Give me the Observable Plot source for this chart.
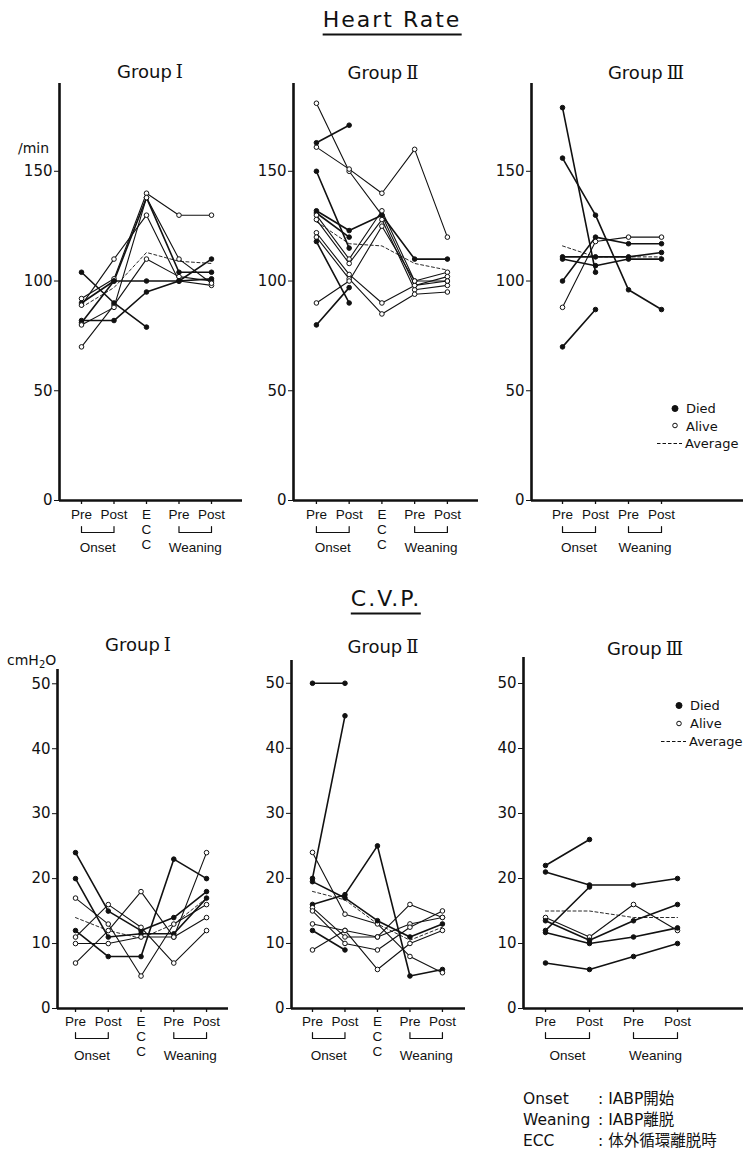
<!DOCTYPE html>
<html>
<head>
<meta charset="utf-8">
<script src="https://cdn.jsdelivr.net/npm/d3@7"></script>
<script src="https://cdn.jsdelivr.net/npm/@observablehq/plot@0.6"></script>
<style>
  html, body { margin: 0; padding: 0; background: #fff; }
  #page { position: relative; width: 743px; height: 1149px; overflow: hidden; color: #111;
          font-family: "DejaVu Sans", "Liberation Sans", sans-serif; }
  .t { position: absolute; white-space: nowrap; line-height: 1; }
  .c { transform: translate(-50%, -50%); }
  .l { transform: translate(0, -50%); }
  .main { font-size: 22px; letter-spacing: 2px; border-bottom: 2px solid #111; padding-bottom: 3px; }
  .grp { font-size: 18px; }
  .rn { font-family: "DejaVu Serif", "Liberation Serif", serif; font-size: 18px; margin-left: 4px; }
  .unit { font-size: 14px; }
  .leg { font-size: 13px; display: flex; align-items: center; }
  .foot { font-size: 15.5px; font-family: "DejaVu Sans", "Noto Sans CJK JP", sans-serif; }
  svg.panel { position: absolute; }
</style>
</head>
<body>
<div id="page"></div>
<script>
// ---------------- data ----------------
const hrStages5 = ["Pre", "Post", "E\nC\nC", "Pre", "Post"];
const hrStages4 = ["Pre", "Post", "Pre", "Post"];
const brackets5 = [[0, 1, "Onset"], [3, 4, "Weaning"]];
const brackets4 = [[0, 1, "Onset"], [2, 3, "Weaning"]];
const hrTicks = [0, 50, 100, 150];
const cvpTicks = [0, 10, 20, 30, 40, 50];

// Heart rate (/min): Pre, Post (onset), ECC, Pre, Post (weaning)
const hrG1Values = [
  [92, 101, 140, 130, 130],
  [90, 100, 138, 104, 104],
  [89, 110, 130, 100, 98],
  [70, 89, 110, 102, 100],
  [82, 82, 95, 100, 110],
  [104, 90, 79, null, null],
  [81, 100, 100, 100, 101],
  [80, 88, 138, 110, 99]
];
const hrG1Died = [false, true, false, false, true, true, true, false];
const hrG1Average = [88, 97, 113, 109, 108];

const hrG2Values = [
  [181, 150, 130, 98, 100],
  [161, 151, 140, 160, 120],
  [163, 171, null, null, null],
  [150, 115, null, null, null],
  [132, 123, 130, 110, 110],
  [131, 120, null, null, null],
  [130, 110, 132, 100, 104],
  [128, 108, 128, 96, 98],
  [122, 103, 90, 98, 102],
  [120, 101, 85, 94, 95],
  [118, 90, null, null, null],
  [90, 100, 125, 100, 100],
  [80, 97, null, null, null]
];
const hrG2Died = [false, false, true, true, true, true, false, false, false, false, true, false, true];
const hrG2Average = [127, 117, 116, 108, 105];

// Group III: Pre, Post (onset), Pre, Post (weaning)
const hrG3Values = [
  [179, 104, null, null],
  [156, 130, 96, 87],
  [111, 111, 111, 113],
  [110, 107, 110, 110],
  [100, 120, 117, 117],
  [88, 118, 120, 120],
  [70, 87, null, null]
];
const hrG3Died = [true, true, true, true, true, false, true];
const hrG3Average = [116, 111, 111, 111];

// C.V.P. (cmH2O)
const cvpG1Values = [
  [24, 15, 12, 14, 18],
  [20, 11, 11.5, 11.5, 17],
  [12, 8, 8, 23, 20],
  [17, 13, 5, 13, 16],
  [11, 16, 12.5, 7, 12],
  [10, 10, 11, 11, 24],
  [7, 12, 18, 11, 14]
];
const cvpG1Died = [true, true, true, false, false, false, false];
const cvpG1Average = [14, 12, 10.8, 13, 17];

const cvpG2Values = [
  [50, 50, null, null, null],
  [20, 45, null, null, null],
  [16, 17.5, 25, 5, 6],
  [24, 14.5, 13, 8, 5.5],
  [19.5, 17, 13.5, 11, 13],
  [15.5, 11, 11, 13, 14],
  [15, 10, 9, 12.5, 15],
  [13, 12, 6, 10, 12],
  [12, 9, null, null, null],
  [9, 12, 11, 16, 14]
];
const cvpG2Died = [true, true, true, false, true, false, false, false, true, false];
const cvpG2Average = [18, 16.7, 13, 10.5, 12.5];

const cvpG3Values = [
  [22, 26, null, null],
  [21, 19, 19, 20],
  [12, 18.7, null, null],
  [14, 11, 16, 12],
  [13.5, 10.5, 13.5, 16],
  [11.7, 10, 11, 12.4],
  [7, 6, 8, 10]
];
const cvpG3Died = [true, true, true, false, true, true, true];
const cvpG3Average = [15, 15, 14, 14];

// ---------------- drawing ----------------
const page = document.getElementById("page");
const INK = "#111";

function text(html, x, y, cls, align = "c") {
  const d = document.createElement("div");
  d.className = "t " + align + " " + cls;
  d.style.left = x + "px";
  d.style.top = y + "px";
  d.innerHTML = html;
  page.appendChild(d);
  return d;
}

function panel(cfg) {
  const {values, died, average, stages, brackets, ticks, ymax,
         left, top, width, height, mL, mR, mT, mB, xmin, xmax, lab} = cfg;
  const innerH = height - mT - mB;
  const u = px => px * ymax / innerH;           // pixels -> y units
  const rows = [];
  values.forEach((vs, s) => vs.forEach((v, i) => {
    if (v != null) rows.push({s, i, v, died: died[s]});
  }));
  const avg = average.map((v, i) => ({i, v}));
  const idx = stages.map((t, i) => ({i, t}));
  const bpts = brackets.flatMap(([a, b], g) => [
    {g, i: a, v: -u(lab.bracket - 6)}, {g, i: a, v: -u(lab.bracket)},
    {g, i: b, v: -u(lab.bracket)}, {g, i: b, v: -u(lab.bracket - 6)}
  ]);
  const labFont = {fontFamily: "Liberation Sans, Arial, sans-serif", fontSize: 13.5, fill: INK};
  const svg = Plot.plot({
    width, height,
    marginLeft: mL, marginRight: mR, marginTop: mT, marginBottom: mB,
    style: {background: "transparent", fontFamily: "DejaVu Sans, sans-serif", fontSize: "15px", color: INK, overflow: "visible"},
    x: {domain: [xmin, xmax], axis: null},
    y: {domain: [0, ymax], ticks, tickSize: 5, tickPadding: 2, label: null},
    marks: [
      Plot.ruleX([xmin], {y1: 0, y2: ymax, stroke: INK, strokeWidth: 2.6}),
      Plot.ruleY([0], {x1: xmin, x2: xmax, stroke: INK, strokeWidth: 2.6}),
      Plot.ruleX(idx, {x: "i", y1: 0, y2: -u(4), stroke: INK, strokeWidth: 1.3}),
      Plot.text(idx, {x: "i", y: 0, dy: lab.stage, text: "t", lineAnchor: "top", lineHeight: 1.12, ...labFont}),
      Plot.line(bpts, {x: "i", y: "v", z: "g", stroke: INK, strokeWidth: 1.2}),
      Plot.text(brackets, {x: d => (d[0] + d[1]) / 2, y: 0, dy: lab.group, text: d => d[2], lineAnchor: "middle", ...labFont}),
      Plot.line(avg, {x: "i", y: "v", stroke: INK, strokeWidth: 0.9, strokeDasharray: "3,2.5"}),
      Plot.line(rows.filter(d => !d.died), {x: "i", y: "v", z: "s", stroke: INK, strokeWidth: 1.1}),
      Plot.line(rows.filter(d => d.died), {x: "i", y: "v", z: "s", stroke: INK, strokeWidth: 1.6}),
      Plot.dot(rows, {x: "i", y: "v", r: 2.3, fill: d => d.died ? INK : "white", stroke: INK, strokeWidth: 1})
    ]
  });
  svg.classList.add("panel");
  svg.style.left = left + "px";
  svg.style.top = top + "px";
  page.appendChild(svg);
}

const hrLab = {stage: 8, bracket: 32, group: 47};
const cvpLab = {stage: 7, bracket: 30, group: 47};

// Heart rate row: axis bottom at y=500
panel({values: hrG1Values, died: hrG1Died, average: hrG1Average, stages: hrStages5, brackets: brackets5,
  ticks: hrTicks, ymax: 190, left: 0, top: 70, width: 250, height: 500, mL: 59, mR: 8, mT: 13, mB: 70,
  xmin: -0.677, xmax: 4.954, lab: hrLab});
panel({values: hrG2Values, died: hrG2Died, average: hrG2Average, stages: hrStages5, brackets: brackets5,
  ticks: hrTicks, ymax: 190, left: 250, top: 70, width: 240, height: 500, mL: 43, mR: 12, mT: 13, mB: 70,
  xmin: -0.70, xmax: 4.95, lab: hrLab});
panel({values: hrG3Values, died: hrG3Died, average: hrG3Average, stages: hrStages4, brackets: brackets4,
  ticks: hrTicks, ymax: 190, left: 490, top: 70, width: 253, height: 500, mL: 41, mR: 0, mT: 13, mB: 70,
  xmin: -0.94, xmax: 5.485, lab: hrLab});

// C.V.P. row: axis bottom at y=1008
panel({values: cvpG1Values, died: cvpG1Died, average: cvpG1Average, stages: hrStages5, brackets: brackets5,
  ticks: cvpTicks, ymax: 52.2, left: 0, top: 650, width: 240, height: 420, mL: 57, mR: 12, mT: 19, mB: 62,
  xmin: -0.55, xmax: 4.67, lab: cvpLab});
panel({values: cvpG2Values, died: cvpG2Died, average: cvpG2Average, stages: hrStages5, brackets: brackets5,
  ticks: cvpTicks, ymax: 53.5, left: 240, top: 650, width: 240, height: 420, mL: 51, mR: 15, mT: 10, mB: 62,
  xmin: -0.646, xmax: 4.71, lab: cvpLab});
panel({values: cvpG3Values, died: cvpG3Died, average: cvpG3Average, stages: hrStages4, brackets: brackets4,
  ticks: cvpTicks, ymax: 54, left: 480, top: 650, width: 263, height: 420, mL: 43, mR: 0, mT: 7, mB: 62,
  xmin: -0.5, xmax: 4.5, lab: cvpLab});

// ---------------- titles, units, legends, footnote ----------------
text("Heart Rate", 392, 22, "main");
text("C.V.P.", 386, 601, "main");

text('Group<span class="rn">Ⅰ</span>', 150, 72, "grp");
text('Group<span class="rn">Ⅱ</span>', 383, 73, "grp");
text('Group<span class="rn">Ⅲ</span>', 646, 73, "grp");
text('Group<span class="rn">Ⅰ</span>', 138, 645, "grp");
text('Group<span class="rn">Ⅱ</span>', 383, 647, "grp");
text('Group<span class="rn">Ⅲ</span>', 645, 649, "grp");

text("/min", 18, 148, "unit", "l");
text('cmH<span style="font-size:10px;position:relative;top:3px">2</span>O', 7, 660, "unit", "l");

function legend(x, y, step) {
  const dot = (fill) => `<svg width="12" height="10" style="margin-right:4px"><circle cx="5" cy="5" r="${fill === "white" ? 2.3 : 3}" fill="${fill}" stroke="${INK}" stroke-width="1"/></svg>`;
  text(dot(INK) + "Died", x, y, "leg", "l");
  text(dot("white") + "Alive", x, y + step, "leg", "l");
  text(`<svg width="27" height="6" style="margin-right:1px"><line x1="0" x2="25" y1="3" y2="3" stroke="${INK}" stroke-width="1" stroke-dasharray="3.5,2"/></svg>Average`, x - 13, y + 2 * step, "leg", "l");
}
legend(670, 408, 17.5);
legend(674, 705, 18);

const footTerms = ["Onset", "Weaning", "ECC"];
const footDefs = [": IABP開始", ": IABP離脱", ": 体外循環離脱時"];
footTerms.forEach((t, k) => {
  const y = 1100 + k * 21;
  text(t, 523, y, "foot", "l");
  text(footDefs[k], 598, y, "foot", "l");
});
</script>
</body>
</html>
